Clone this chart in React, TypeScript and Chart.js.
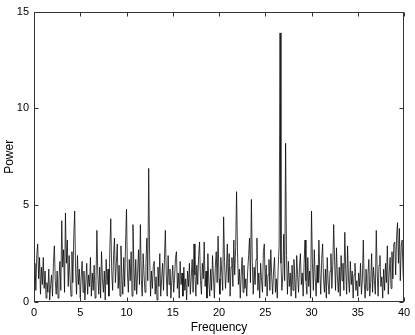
import React, { useEffect, useRef } from "react";
import { Chart, registerables } from "chart.js";

Chart.register(...registerables);

const freqStep = 0.1;
const xTicks = [0, 5, 10, 15, 20, 25, 30, 35, 40];
const yTicks = [0, 5, 10, 15];
const power: number[] = [
  1.1, 2.0, 0.6, 2.4, 3.0, 1.2, 2.3, 0.4, 1.8, 0.9,
  2.3, 0.7, 1.6, 0.2, 1.0, 0.5, 1.7, 0.1, 0.9, 1.4,
  0.3, 2.0, 2.9, 1.1, 0.4, 1.6, 0.2, 1.2, 2.1, 0.6,
  4.2, 1.8, 2.7, 0.5, 4.6, 2.0, 3.2, 0.8, 2.4, 1.2,
  0.3, 2.6, 1.0, 3.4, 4.7, 1.5, 0.4, 2.4, 0.9, 1.7,
  0.2, 1.3, 2.1, 0.5, 1.6, 0.1, 1.0, 2.0, 0.4, 1.4,
  0.8, 2.3, 0.3, 1.5, 0.6, 1.9, 0.2, 1.1, 3.7, 1.4,
  0.4, 1.8, 0.2, 2.6, 1.2, 0.5, 1.6, 0.1, 2.2, 0.9,
  1.7, 0.3, 2.8, 4.3, 1.6, 0.6, 2.4, 3.3, 1.0, 2.0,
  3.0, 0.7, 1.9, 0.3, 2.9, 1.3, 0.4, 2.3, 0.8, 3.1,
  4.8, 1.5, 0.5, 2.2, 1.1, 2.6, 0.3, 4.0, 1.8, 0.6,
  2.2, 0.4, 1.5, 2.7, 0.9, 4.0, 1.2, 0.3, 2.5, 1.4,
  0.5, 2.0, 3.3, 1.1, 6.9, 2.4, 0.3, 1.6, 0.7, 1.9,
  2.1, 0.4, 1.3, 0.1, 1.8, 0.8, 2.5, 0.3, 1.2, 2.0,
  0.6, 2.2, 3.7, 1.4, 0.3, 2.4, 0.9, 1.7, 0.2, 1.1,
  1.9, 0.5, 1.3, 2.3, 2.6, 0.7, 1.5, 0.2, 2.1, 0.9,
  1.5, 0.3, 1.8, 0.6, 1.2, 0.1, 1.6, 0.8, 2.0, 0.4,
  1.3, 2.2, 0.5, 3.0, 1.4, 0.3, 1.9, 0.9, 2.4, 3.1,
  1.1, 0.4, 2.0, 1.2, 3.1, 0.8, 1.6, 0.2, 2.5, 1.0,
  0.3, 1.7, 0.6, 2.4, 1.3, 0.2, 1.8, 2.6, 1.0, 3.4,
  1.2, 0.4, 2.3, 1.5, 0.6, 4.4, 2.1, 0.7, 1.6, 3.0,
  1.0, 2.5, 0.3, 1.8, 2.3, 0.8, 3.2, 1.4, 2.8, 5.7,
  2.6, 0.9, 1.7, 0.2, 1.4, 2.3, 0.5, 1.9, 0.7, 1.2,
  0.3, 1.6, 2.4, 3.3, 1.0, 5.3, 2.1, 0.4, 1.8, 0.9,
  2.2, 3.3, 0.6, 1.5, 0.2, 2.0, 1.1, 0.5, 2.6, 3.0,
  0.8, 1.9, 0.3, 1.4, 2.2, 0.6, 2.7, 1.3, 0.4, 1.6,
  2.3, 0.5, 1.2, 0.2, 1.8, 2.9, 13.9, 2.0, 0.6, 1.4,
  3.5, 1.1, 8.2, 2.4, 0.4, 2.1, 0.8, 1.5, 0.3, 1.9,
  0.6, 2.2, 1.2, 0.2, 2.4, 1.4, 0.5, 1.8, 2.5, 0.9,
  1.5, 0.3, 2.0, 3.2, 1.1, 0.4, 2.3, 0.8, 1.6, 0.2,
  4.7, 2.0, 0.6, 2.7, 1.3, 0.3, 1.9, 1.0, 3.2, 1.5,
  0.4, 2.2, 3.0, 1.2, 0.5, 1.7, 0.2, 2.3, 1.0, 0.4,
  1.6, 2.5, 0.7, 1.9, 4.0, 2.1, 0.6, 2.8, 1.3, 0.5,
  1.8, 0.3, 2.4, 1.1, 2.0, 0.6, 3.6, 1.7, 0.4, 2.9,
  1.2, 0.5, 2.1, 0.9, 1.6, 0.2, 1.4, 2.0, 0.6, 1.1,
  0.3, 1.5, 0.8, 2.0, 0.4, 1.2, 3.2, 1.0, 0.2, 1.7,
  0.6, 1.4, 2.2, 0.3, 1.0, 2.5, 0.5, 1.8, 1.1, 0.4,
  3.7, 1.6, 0.3, 1.9, 2.4, 0.8, 1.3, 0.2, 1.7, 0.6,
  2.0, 1.0, 2.9, 0.4, 1.5, 2.3, 0.7, 2.6, 1.2, 3.0,
  3.1, 1.4, 3.4, 4.1, 2.0, 3.8, 1.1, 2.9, 3.2, 1.5,
  0.6,
];

const FONT = "'Liberation Sans', Arial, Helvetica, sans-serif";

const boxPlugin = {
  id: "matlabBox",
  afterDraw(chart: any) {
    const { ctx, chartArea } = chart;
    const { left, right, top, bottom } = chartArea;
    const xs = chart.scales.x;
    const ys = chart.scales.y;
    ctx.save();
    ctx.strokeStyle = "#333";
    ctx.lineWidth = 1;
    const L = Math.round(left) + 0.5;
    const R = Math.round(right) - 0.5;
    const T = Math.round(top) + 0.5;
    const B = Math.round(bottom) - 0.5;
    ctx.strokeRect(L, T, R - L, B - T);
    const tl = 4;
    ctx.beginPath();
    for (const v of xTicks) {
      const px = Math.round(xs.getPixelForValue(v)) + 0.5;
      ctx.moveTo(px, B);
      ctx.lineTo(px, B - tl);
      ctx.moveTo(px, T);
      ctx.lineTo(px, T + tl);
    }
    for (const v of yTicks) {
      const py = Math.round(ys.getPixelForValue(v)) + 0.5;
      ctx.moveTo(L, py);
      ctx.lineTo(L + tl, py);
      ctx.moveTo(R, py);
      ctx.lineTo(R - tl, py);
    }
    ctx.stroke();
    ctx.restore();
  },
};

export default function App() {
  const ref = useRef<HTMLCanvasElement | null>(null);
  useEffect(() => {
    if (!ref.current) return;
    const pts = power.map((p, i) => ({ x: +(i * freqStep).toFixed(2), y: p }));
    const chart = new Chart(ref.current, {
      type: "line",
      data: {
        datasets: [
          {
            data: pts,
            borderColor: "#000",
            borderWidth: 0.75,
            pointRadius: 0,
            tension: 0,
            fill: false,
          },
        ],
      },
      options: {
        animation: false,
        responsive: false,
        maintainAspectRatio: false,
        layout: { padding: { top: 11, right: 11, left: 0, bottom: 0 } },
        plugins: { legend: { display: false }, tooltip: { enabled: false } },
        scales: {
          x: {
            type: "linear",
            min: 0,
            max: 40,
            afterBuildTicks: (s: any) => {
              s.ticks = xTicks.map((v) => ({ value: v }));
            },
            afterFit: (s: any) => {
              s.height = 33;
            },
            grid: { display: false, drawTicks: false },
            border: { display: false },
            ticks: { color: "#000", font: { family: FONT, size: 11 }, padding: 4, maxRotation: 0, autoSkip: false },
            title: {
              display: true,
              text: "Frequency",
              color: "#000",
              font: { family: FONT, size: 12 },
              padding: { top: 0, bottom: 0 },
            },
          },
          y: {
            type: "linear",
            min: 0,
            max: 15,
            afterBuildTicks: (s: any) => {
              s.ticks = yTicks.map((v) => ({ value: v }));
            },
            afterFit: (s: any) => {
              s.width = 34;
            },
            grid: { display: false, drawTicks: false },
            border: { display: false },
            ticks: { color: "#000", font: { family: FONT, size: 11 }, padding: 5 },
            title: {
              display: true,
              text: "Power",
              color: "#000",
              font: { family: FONT, size: 12 },
              padding: { top: 2, bottom: 0 },
            },
          },
        },
      },
      plugins: [boxPlugin],
    });
    return () => chart.destroy();
  }, []);
  return (
    <div style={{ position: "absolute", left: 0, top: 0, width: 415, height: 335, background: "#fff" }}>
      <canvas ref={ref} width={415} height={335} style={{ display: "block" }} />
    </div>
  );
}
